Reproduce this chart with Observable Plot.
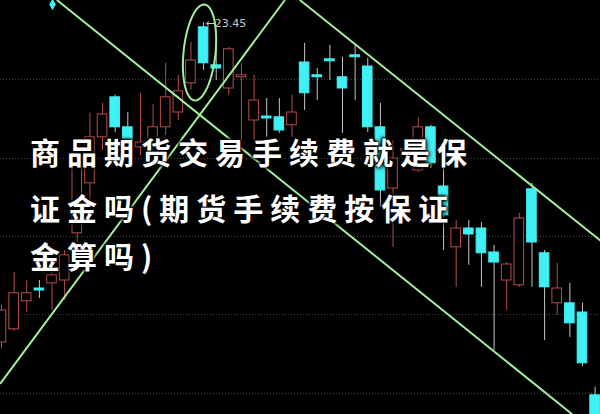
<!DOCTYPE html>
<html>
<head>
<meta charset="utf-8">
<script src="https://cdn.jsdelivr.net/npm/d3@7"></script>
<script src="https://cdn.jsdelivr.net/npm/@observablehq/plot@0.6"></script>
<style>
html, body { margin: 0; padding: 0; background: #000; }
#wrap { position: relative; width: 600px; height: 414px; overflow: hidden; background: #000; }
#chart svg { display: block; }
.t {
  position: absolute; left: 30px;
  font-family: "Noto Sans CJK SC", sans-serif; font-weight: 700;
  font-size: 30px; line-height: 1; letter-spacing: 7px; color: #fff; white-space: nowrap;
  text-shadow: 0 0 2px #000, 0 0 3px #000, 1px 1px 4px #000, -1px -1px 3px #000;
}
</style>
</head>
<body>
<div id="wrap">
  <div id="chart"></div>
  <div class="t" style="top:136px">商品期货交易手续费就是保</div>
  <div class="t" style="top:192px">证金吗(期货手续费按保证</div>
  <div class="t" style="top:240px">金算吗)</div>
</div>
<script>
// Daily candles (price)
const open  = [15.45,15.78,16.48,16.80,16.93,17.00,18.18,19.43,20.58,21.58,20.83,20.33,20.50,20.83,21.20,21.93,23.33,22.38,21.80,22.08,21.00,21.10,21.08,20.88,22.45,22.13,22.53,22.08,22.63,22.35,20.83,19.30,20.23,19.75,20.83,19.35,17.83,18.30,18.30,17.70,17.00,16.88,19.28,17.68,16.43,16.43,16.20,14.13];
const close = [16.25,16.68,16.68,16.75,17.13,17.63,19.93,20.58,21.15,20.83,20.50,20.45,20.83,21.58,21.73,22.50,22.43,22.30,22.78,22.13,21.50,21.05,20.75,21.20,21.68,22.08,22.48,21.80,22.58,20.83,19.25,20.05,20.28,20.83,19.93,18.63,18.30,18.15,17.68,17.45,17.40,18.55,17.95,16.83,16.80,15.93,14.93,13.50];
const high  = [16.38,17.20,17.00,17.00,17.55,17.75,20.08,21.18,21.43,21.63,21.20,21.68,21.40,22.43,22.13,22.95,23.45,23.08,22.83,22.43,22.13,21.55,21.55,21.63,22.93,22.30,22.88,22.58,22.88,22.55,21.43,20.50,20.50,21.08,20.88,20.18,18.50,18.50,18.45,17.88,17.45,18.68,19.43,17.75,17.43,16.93,16.43,14.33];
const low   = [15.30,15.73,16.20,16.55,16.25,16.50,17.75,19.00,20.25,20.70,20.38,20.13,20.25,20.63,21.00,21.75,22.25,22.00,21.63,20.50,20.50,20.58,20.68,20.58,21.25,21.50,22.00,20.68,21.50,20.70,18.83,17.83,20.00,19.70,19.80,17.75,16.83,17.38,16.83,15.25,16.25,16.83,16.83,15.50,16.13,15.58,14.85,13.50];

// Dotted price grid levels
const gridLevels = [22.03, 20.05, 18.10, 16.15, 14.18];

// Hand-drawn trend lines (day index, price)
const trendA = [{i: 4.43, p: 24.0}, {i: 45.21, p: 13.65}];
const trendB = [{i: 23.67, p: 24.0}, {i: 48.2, p: 17.8}];
const trendC = [{i: -0.08, p: 14.43}, {i: 22.41, p: 24.0}];

// Circled peak and its label
const peakIndex = 16, peakPrice = 23.45, peakLabel = "←23.45";
const ellipseCenter = {i: 15.68, p: 22.7}, ellipseRadius = {i: 1.27, p: 1.2}, ellipseTilt = 0.35;
const marker = [{i: 4.04, p: 23.9}];

const idx = d3.range(open.length);
const up = i => close[i] >= open[i];
const RED = "#b84c4c", CYAN = "#3ff0f4", WICK_DN = "#c4c4c4", GREEN = "#a2ec9c";

const ellipsePts = d3.range(0, 361, 6).map(a => {
  const t = a * Math.PI / 180;
  return {
    i: ellipseCenter.i + ellipseRadius.i * Math.cos(t) + ellipseTilt * Math.sin(t),
    p: ellipseCenter.p + ellipseRadius.p * Math.sin(t)
  };
});

const chart = Plot.plot({
  width: 600, height: 414,
  marginTop: 0, marginRight: 0, marginBottom: 0, marginLeft: 0,
  style: {background: "#000", overflow: "hidden"},
  x: {type: "linear", domain: [-0.0792, 47.427], axis: null},
  y: {domain: [13.65, 24], axis: null},
  marks: [
    Plot.ruleY(gridLevels, {stroke: "#4a4a4a", strokeDasharray: "1,2", strokeWidth: 1}),
    Plot.ruleX(idx, {x: i => i, y1: i => low[i], y2: i => high[i],
      stroke: i => up(i) ? RED : WICK_DN, strokeWidth: 1}),
    Plot.rect(idx, {x1: i => i - 0.38, x2: i => i + 0.38,
      y1: i => Math.min(open[i], close[i]), y2: i => Math.max(open[i], close[i]),
      fill: i => up(i) ? "#000" : CYAN,
      stroke: i => up(i) ? RED : CYAN, strokeWidth: 1}),
    Plot.line(trendA, {x: "i", y: "p", stroke: GREEN, strokeWidth: 2}),
    Plot.line(trendB, {x: "i", y: "p", stroke: GREEN, strokeWidth: 2}),
    Plot.line(trendC, {x: "i", y: "p", stroke: GREEN, strokeWidth: 2}),
    Plot.line(ellipsePts, {x: "i", y: "p", stroke: GREEN, strokeWidth: 2}),
    Plot.dot(marker, {x: "i", y: "p", symbol: "diamond", r: 3.5, fill: CYAN, stroke: null}),
    Plot.text([peakLabel], {x: peakIndex, y: peakPrice, text: d => d, textAnchor: "start",
      dx: 2, dy: 1, fill: "#c8c8c8", fontSize: 11, fontFamily: "DejaVu Sans, sans-serif"})
  ]
});
document.getElementById("chart").appendChild(chart);
</script>
</body>
</html>
